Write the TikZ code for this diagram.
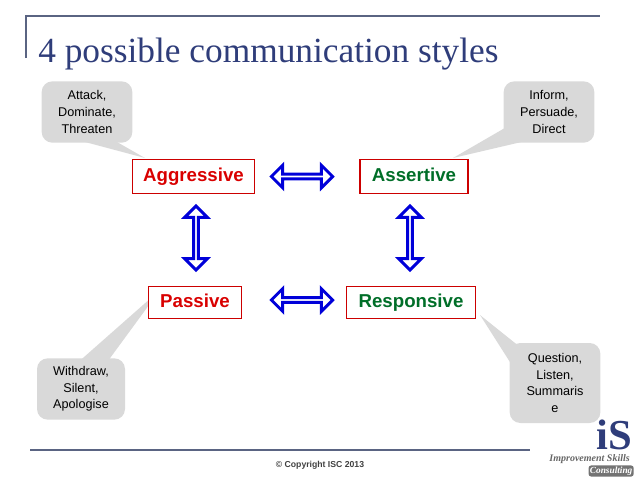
\documentclass[tikz,border=0pt]{standalone}
\usepackage{fontspec}
\setmainfont{Liberation Sans}
\newfontfamily\titlefont{Liberation Serif}
\usepackage{tikz}
\usetikzlibrary{shapes.arrows}
\definecolor{titleblue}{RGB}{47,61,122}
\definecolor{bubblegray}{RGB}{217,217,217}
\definecolor{darkgreen}{RGB}{0,110,40}
\definecolor{framegray}{RGB}{90,100,130}
\begin{document}
\begin{tikzpicture}[x=0.75pt,y=0.75pt,yscale=-1,xscale=1,
  stylebox/.style={draw=red!80!black,line width=0.8pt,fill=white,inner sep=0pt,text height=10pt,text depth=3pt,font=\fontsize{14}{16}\selectfont\bfseries},
  bubble/.style={fill=bubblegray,rounded corners=8pt,align=center,inner sep=0pt,font=\fontsize{9.5}{12.5}\selectfont},
  dblarrow/.style={double arrow,draw=blue!85!black,line width=2.2pt,fill=white,inner sep=0pt,
    double arrow head extend=4pt,minimum width=17pt}]
\useasboundingbox (0,0) rectangle (638,479);
%frame of the title
\draw [framegray,line width=0.8pt] (26,58) -- (26,16) -- (600,16) ;
\draw (38,62) node [anchor=base west,inner sep=0pt,titleblue] {\titlefont\fontsize{26.5}{28}\selectfont 4 possible communication styles};
%callouts
\fill [bubblegray] (70,138) -- (110,138) -- (145,158) -- cycle ;
\node (attack) [bubble,minimum width=68pt,minimum height=46pt] at (87,112) {Attack,\\Dominate,\\Threaten};
\fill [bubblegray] (510,125) -- (530,140) -- (453,158) -- cycle ;
\node (inform) [bubble,minimum width=68pt,minimum height=46pt] at (549,112) {Inform,\\Persuade,\\Direct};
\fill [bubblegray] (75,365) -- (105,365) -- (160,290) -- cycle ;
\node (withdraw) [bubble,minimum width=66pt,minimum height=46pt] at (81,389) {Withdraw,\\Silent,\\Apologise};
\fill [bubblegray] (530,355) -- (515,370) -- (480,315) -- cycle ;
\node (question) [bubble,minimum width=68pt,minimum height=60pt] at (555,383) {Question,\\Listen,\\Summaris\\e};
%styles
\node (aggressive) [stylebox,text=red!85!black,minimum width=92pt,minimum height=25pt] at (193.5,176.5) {Aggressive};
\node (assertive) [stylebox,text=darkgreen,minimum width=81pt,minimum height=25pt] at (414,176.5) {Assertive};
\node (passive) [stylebox,text=red!85!black,minimum width=70pt,minimum height=24pt] at (195,302.5) {Passive};
\node (responsive) [stylebox,text=darkgreen,minimum width=97pt,minimum height=24pt] at (411,302.5) {Responsive};
%arrows
\node (ha) [dblarrow,minimum height=46pt] at (302,176.5) {};
\node (hp) [dblarrow,minimum height=46pt] at (302,300) {};
\node (vl) [dblarrow,rotate=90,minimum height=48pt] at (196,238) {};
\node (vr) [dblarrow,rotate=90,minimum height=48pt] at (410,238) {};
%footer
\draw [framegray,line width=0.8pt] (30,450) -- (530,450) ;
\draw (320,465) node [inner sep=0pt,font=\fontsize{6.5}{8}\selectfont\bfseries,black!75] {© Copyright ISC 2013};
%logo
\node (logois) [inner sep=0pt,titleblue,anchor=south] at (614,450) {\titlefont\fontsize{32}{32}\selectfont\bfseries iS};
\node (logotxt) [inner sep=0pt,black!60,anchor=east] at (630,459) {\titlefont\fontsize{7.5}{9}\selectfont\itshape\bfseries Improvement Skills};
\node (logocons) [inner sep=1pt,fill=black!55,text=white,rounded corners=2pt,anchor=east] at (634,471) {\titlefont\fontsize{7}{8}\selectfont\itshape\bfseries Consulting};
\end{tikzpicture}
\end{document}
